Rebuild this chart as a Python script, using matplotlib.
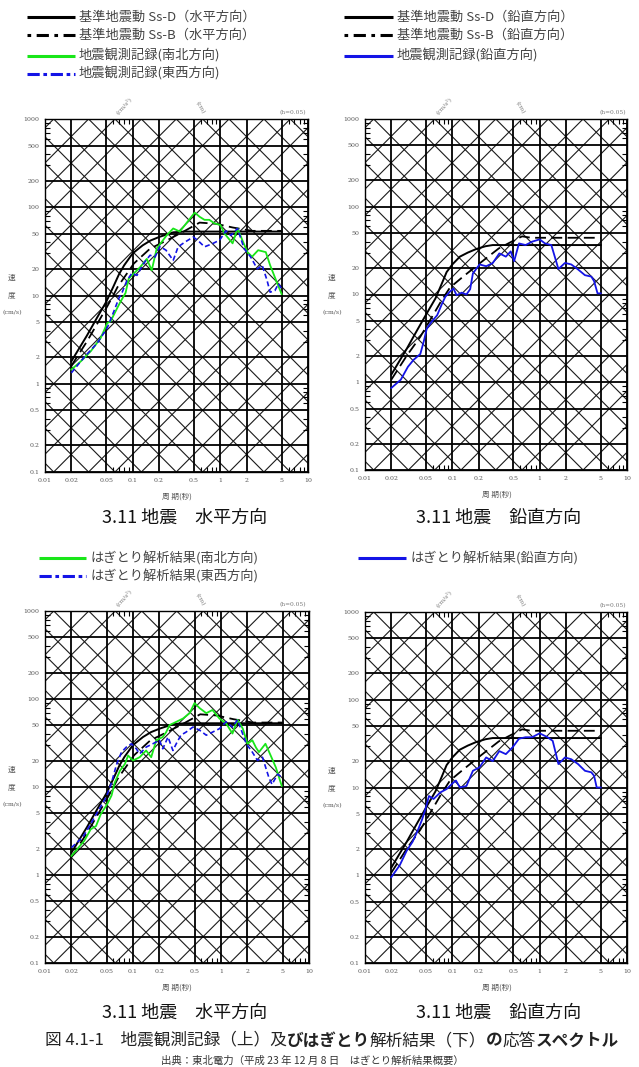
import numpy as np
import matplotlib
matplotlib.use('Agg')
import matplotlib.pyplot as plt
from matplotlib.ticker import FixedLocator, NullFormatter

plt.rcParams['font.family'] = ['Noto Sans CJK JP', 'DejaVu Sans']

W, H = 639, 1067

# --- standard ground motions (same in upper and lower rows)
ssd_h_T = [0.02, 0.03, 0.04, 0.05, 0.06, 0.07, 0.08, 0.1, 0.13, 0.16, 0.2, 0.29, 0.4, 5.0]
ssd_h_V = [1.8, 3.5, 5.8, 8.5, 12.5, 17.5, 22, 30, 37, 42, 46, 52, 53, 53]
ssb_h_T = [0.02, 0.03, 0.04, 0.05, 0.06, 0.067, 0.08, 0.103, 0.158, 0.244, 0.38, 0.58, 0.89, 1.38, 2.3, 5.0]
ssb_h_V = [1.6, 3.0, 4.9, 7.2, 10, 12.4, 16, 23, 34, 42, 53, 67, 65, 59, 54, 54]
ssd_v_T = [0.02, 0.03, 0.04, 0.05, 0.064, 0.075, 0.086, 0.1, 0.122, 0.15, 0.188, 0.24, 0.29, 5.0]
ssd_v_V = [1.22, 2.4, 4.0, 5.9, 9.0, 13, 18, 22, 27, 30, 33, 35.5, 36.6, 36.6]
ssb_v_T = [0.02, 0.03, 0.043, 0.06, 0.075, 0.094, 0.133, 0.205, 0.34, 0.5, 0.63, 0.8, 5.0]
ssb_v_V = [1.07, 2.0, 3.3, 5.8, 8.5, 12, 16, 22.6, 33.5, 41, 46, 44.3, 44.3]

# --- observed records (upper row)
obs_ns_T = [0.02, 0.0257, 0.0333, 0.0432, 0.0513, 0.056, 0.0637, 0.0726, 0.083, 0.09, 0.1026,
            0.122, 0.145, 0.165, 0.188, 0.244, 0.29, 0.345, 0.41, 0.51, 0.58, 0.66, 0.75, 0.85,
            1.0, 1.12, 1.38, 1.57, 1.79, 2.04, 2.3, 2.7, 3.3, 3.7, 4.4, 5.0]
obs_ns_V = [1.45, 1.8, 2.34, 3.3, 4.87, 5.1, 6.6, 8.5, 10.7, 15.5, 17.7,
            21, 26, 19.3, 34, 48, 57.5, 53, 66, 87, 78, 72, 72, 66,
            63, 50, 39, 57.5, 42, 31, 27.5, 32.6, 31, 22, 14.2, 10.4]
obs_ew_T = [0.02, 0.028, 0.0396, 0.0513, 0.061, 0.0695, 0.076, 0.086, 0.098, 0.112, 0.133,
            0.158, 0.18, 0.205, 0.24, 0.29, 0.33, 0.39, 0.49, 0.555, 0.66, 0.82, 0.98, 1.16,
            1.32, 1.57, 1.87, 2.22, 2.64, 3.0, 3.4, 3.7, 4.2, 4.6, 5.0]
obs_ew_V = [1.33, 2.0, 2.9, 4.3, 6.6, 9.3, 10.9, 14.8, 17.9, 16.9, 23,
            28.6, 27.3, 36, 32.6, 25, 35.6, 40, 46, 42, 35.6, 38.8, 42.4, 54,
            48, 57.5, 34, 27.3, 20, 22, 15, 10.9, 11.4, 13.6, 11.9]
obs_ud_T = [0.02, 0.0257, 0.031, 0.036, 0.043, 0.047, 0.051, 0.058, 0.067, 0.076, 0.083, 0.094,
            0.103, 0.112, 0.128, 0.145, 0.16, 0.172, 0.205, 0.244, 0.29, 0.345, 0.41, 0.466,
            0.51, 0.58, 0.69, 0.82, 1.0, 1.15, 1.36, 1.64, 1.95, 2.3, 2.75, 3.3, 3.9, 4.2, 4.6, 5.0]
obs_ud_V = [0.86, 1.07, 1.5, 1.8, 2.1, 2.9, 4.1, 4.9, 5.8, 7.8, 9.4, 10.8,
            11.7, 9.8, 10.5, 10.0, 11.5, 17.4, 22, 21, 22.8, 29.4, 27, 31,
            24, 38.2, 36.6, 40, 42.5, 38.2, 36.6, 19.5, 22.9, 22, 19.3, 16.6, 16, 14.2, 10.3, 10.3]

# --- stripped (hagitori) analysis results (lower row)
hag_ns_T = [0.02, 0.028, 0.033, 0.038, 0.043, 0.051, 0.057, 0.062, 0.071, 0.081, 0.088, 0.1,
            0.119, 0.141, 0.161, 0.184, 0.218, 0.238, 0.26, 0.31, 0.37, 0.44, 0.5, 0.57, 0.68,
            0.8, 0.96, 1.14, 1.35, 1.54, 1.77, 2.0, 2.27, 2.5, 2.7, 3.2, 3.6, 4.2, 4.9]
hag_ns_V = [1.65, 2.45, 3.3, 3.6, 4.9, 6.4, 8.0, 11.2, 15.3, 18.3, 22.8, 20,
            21.8, 26, 21.8, 34, 37, 42, 50.5, 55, 60, 69, 90, 79, 69,
            75, 60, 53, 40.5, 58, 46, 31, 34, 28, 24.9, 31, 23.8, 16.7, 10.3]
hag_ew_T = [0.02, 0.027, 0.035, 0.043, 0.05, 0.057, 0.065, 0.074, 0.084, 0.096, 0.109, 0.119,
            0.141, 0.168, 0.2, 0.218, 0.25, 0.284, 0.31, 0.35, 0.4, 0.48, 0.57, 0.68, 0.8,
            0.96, 1.14, 1.35, 1.54, 1.94, 2.27, 2.6, 2.96, 3.5, 3.8, 4.4, 4.9]
hag_ew_V = [2.05, 2.7, 4.2, 6.0, 7.8, 11.2, 18, 24.9, 28.4, 31, 27.2, 23.8,
            28.4, 31, 34, 27.2, 37, 26, 31, 38.8, 42, 48, 44.3, 38.8, 42,
            46, 55, 48, 58, 31, 24.9, 20, 21.8, 12.8, 10.7, 14, 12.8]
hag_ud_T = [0.02, 0.025, 0.03, 0.035, 0.04, 0.045, 0.05, 0.054, 0.061, 0.073, 0.086, 0.103,
            0.11, 0.122, 0.145, 0.172, 0.205, 0.244, 0.29, 0.345, 0.41, 0.49, 0.58, 0.69,
            0.82, 1.0, 1.23, 1.41, 1.64, 1.95, 2.3, 2.75, 3.3, 3.9, 4.2, 4.5, 5.0]
hag_ud_V = [0.95, 1.3, 1.9, 2.4, 3.2, 4.3, 6.0, 8.0, 7.4, 8.8, 9.6, 11.4,
            12, 10, 10.4, 15.5, 17, 22, 20, 26, 24, 28.7, 36, 37.4,
            37.4, 41.5, 37.4, 34, 18.5, 22, 21, 18.5, 15.5, 14.9, 13.6, 10, 10]

x_ticks = [0.01, 0.02, 0.05, 0.1, 0.2, 0.5, 1, 2, 5, 10]
x_labels = ['0.01', '0.02', '0.05', '0.1', '0.2', '0.5', '1', '2', '5', '10']
y_ticks = [0.1, 0.2, 0.5, 1, 2, 5, 10, 20, 50, 100, 200, 500, 1000]
y_labels = ['0.1', '0.2', '0.5', '1', '2', '5', '10', '20', '50', '100', '200', '500', '1000']

GREEN = '#19e619'
BLUE = '#1414e6'
GRAY = '#555555'
SERIF = 'DejaVu Serif'

fig = plt.figure(figsize=(W / 100, H / 100), dpi=100)
over = fig.add_axes([0, 0, 1, 1])
over.set_xlim(0, W)
over.set_ylim(H, 0)
over.axis('off')


def tripartite(left, top, right, bottom):
    ax = fig.add_axes([left / W, 1 - bottom / H, (right - left) / W, (bottom - top) / H])
    ax.set_xscale('log')
    ax.set_yscale('log')
    t = np.array([0.01, 10.0])
    # acceleration (cm/s2) and displacement (cm) lines
    for k in range(-5, 8):
        for c in (1, 2, 5):
            a = c * 10.0 ** k
            ax.plot(t, a * t / (2 * np.pi), color='#1a1a1a', lw=0.8, zorder=1)
            ax.plot(t, 2 * np.pi * a / t, color='#1a1a1a', lw=0.8, zorder=1)
    ax.set_xlim(0.01, 10)
    ax.set_ylim(0.1, 1000)
    ax.set_xticks(x_ticks)
    ax.set_xticklabels(x_labels, fontfamily=SERIF)
    ax.set_yticks(y_ticks)
    ax.set_yticklabels(y_labels, fontfamily=SERIF)
    ax.xaxis.set_minor_locator(FixedLocator([0.06, 0.07, 0.08, 0.09, 0.6, 0.7, 0.8, 0.9, 6, 7, 8, 9]))
    ax.yaxis.set_minor_locator(FixedLocator([m * 10.0 ** k for k in range(-1, 3) for m in (3, 4, 6, 7, 8, 9)]))
    ax.xaxis.set_minor_formatter(NullFormatter())
    ax.yaxis.set_minor_formatter(NullFormatter())
    ax.grid(which='major', color='k', lw=1.3, zorder=2)
    ax.tick_params(which='major', length=0, labelsize=4.5, labelcolor=GRAY, pad=4)
    ax.tick_params(which='minor', direction='in', length=3.5, width=0.8, top=True, right=True)
    for s in ax.spines.values():
        s.set_linewidth(1.0)

    # decorations of the tripartite sheet
    deco = [('(cm/s²)', 78, -14, 48), ('(cm)', 155, -11, -60), ('(h=0.05)', 248, -6, 0),
            ('100000', 45, 21, 45), ('10', 87, 11, -60), ('10000', 132, 14, 45),
            ('10', 177, 11, -60), ('1000', 224, 18, 45), ('100', 252, 78, 45),
            ('10', 255, 164, 45), ('1', 255, 249, 45), ('0.1', 252, 341, 45),
            ('1', 8, 19, -45), ('0.1', 8, 108, -45), ('0.01', 10, 196, -45), ('0.001', 10, 286, -45)]
    for s, dx, dy, rot in deco:
        over.text(left + dx, top + dy, s, fontsize=4.2, color='#777777', rotation=rot,
                  ha='center', va='center', family=SERIF)
    over.text(left - 33, top + 159, '速', fontsize=5.5, color=GRAY, ha='center', va='center')
    over.text(left - 33, top + 176, '度', fontsize=5.5, color=GRAY, ha='center', va='center')
    over.text(left - 33, top + 194, '(cm/s)', fontsize=4.5, color=GRAY, ha='center', va='center', family=SERIF)
    over.text(left + 132, bottom + 25, '周 期(秒)', fontsize=5.5, color=GRAY, ha='center', va='center')
    return ax


def curve(ax, T, V, color, **kw):
    ax.plot(T, V, color=color, zorder=4, **kw)


def standards(ax, dT, dV, bT, bV):
    curve(ax, dT, dV, 'k', lw=1.4)
    curve(ax, bT, bV, 'k', lw=1.3, dashes=(6, 3))


panels = {
    'tl': (45, 119, 308, 472), 'tr': (365, 119, 627, 470),
    'bl': (45, 611, 309, 963), 'br': (365, 612, 627, 963),
}

ax = tripartite(*panels['tl'])
standards(ax, ssd_h_T, ssd_h_V, ssb_h_T, ssb_h_V)
curve(ax, obs_ns_T, obs_ns_V, GREEN, lw=1.3)
curve(ax, obs_ew_T, obs_ew_V, BLUE, lw=1.2, dashes=(3, 1.8))

ax = tripartite(*panels['tr'])
standards(ax, ssd_v_T, ssd_v_V, ssb_v_T, ssb_v_V)
curve(ax, obs_ud_T, obs_ud_V, BLUE, lw=1.3)

ax = tripartite(*panels['bl'])
standards(ax, ssd_h_T, ssd_h_V, ssb_h_T, ssb_h_V)
curve(ax, hag_ns_T, hag_ns_V, GREEN, lw=1.3)
curve(ax, hag_ew_T, hag_ew_V, BLUE, lw=1.2, dashes=(3, 1.8))

ax = tripartite(*panels['br'])
standards(ax, ssd_v_T, ssd_v_V, ssb_v_T, ssb_v_V)
curve(ax, hag_ud_T, hag_ud_V, BLUE, lw=1.3)


# legends
def legend_row(x0, x1, y, text, color, **kw):
    over.plot([x0, x1], [y, y], color=color, lw=2.2, solid_capstyle='butt', **kw)
    over.text(x1 + 4, y, text, fontsize=9.5, color='#444444', va='center', ha='left')


legend_row(27, 75, 17, '基準地震動 Ss-D（水平方向）', 'k')
legend_row(27, 75, 35, '基準地震動 Ss-B（水平方向）', 'k', dashes=(1.2, 1.8, 4, 1.8))
legend_row(27, 75, 56, '地震観測記録(南北方向)', GREEN)
legend_row(27, 75, 74, '地震観測記録(東西方向)', BLUE, dashes=(4, 1.2, 1.2, 1.2))
legend_row(344, 393, 17, '基準地震動 Ss-D（鉛直方向）', 'k')
legend_row(344, 393, 35, '基準地震動 Ss-B（鉛直方向）', 'k', dashes=(1.2, 1.8, 4, 1.8))
legend_row(344, 393, 56, '地震観測記録(鉛直方向)', BLUE)
legend_row(39, 86, 558, 'はぎとり解析結果(南北方向)', GREEN)
legend_row(39, 86, 576, 'はぎとり解析結果(東西方向)', BLUE, dashes=(4, 1.2, 1.2, 1.2))
legend_row(358, 406, 558, 'はぎとり解析結果(鉛直方向)', BLUE)

# panel titles
for y in (518, 1013):
    over.text(185, y, '3.11 地震　水平方向', fontsize=13, ha='center', va='center', color='#111111')
    over.text(499, y, '3.11 地震　鉛直方向', fontsize=13, ha='center', va='center', color='#111111')

# caption, with the bold kana runs of the original
pieces = [('図 4.1-1　地震観測記録（上）及', 'normal'), ('びはぎとり', 'bold'),
          ('解析結果（下）', 'normal'), ('の', 'bold'), ('応答', 'normal'), ('スペクトル', 'bold')]
prev = over.text(45, 1041, pieces[0][0], fontsize=12, va='center', ha='left', color='#222222')
for s, wt in pieces[1:]:
    prev = over.annotate(s, xy=(1, 0), xycoords=prev, va='bottom', ha='left',
                         fontsize=12, fontweight=wt, color='#222222')

over.text(312, 1061, '出典：東北電力（平成 23 年 12 月 8 日　はぎとり解析結果概要）',
          fontsize=7.5, ha='center', va='center', color='#333333')

fig.savefig('out.png', dpi=100)
